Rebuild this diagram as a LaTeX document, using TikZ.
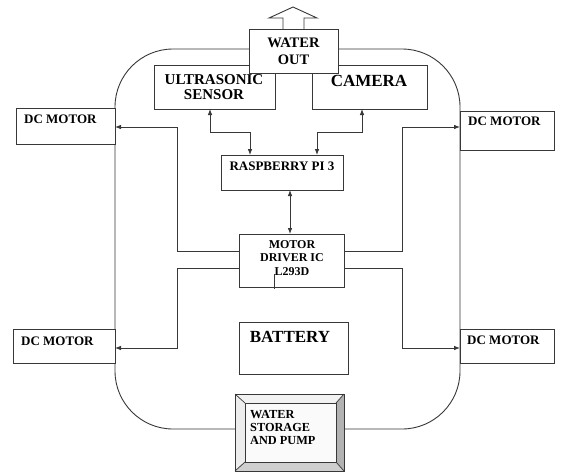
\documentclass[tikz,border=0pt]{standalone}
\usepackage{fontspec}
\setmainfont{Liberation Serif}
\usetikzlibrary{arrows.meta}
\begin{document}
\begin{tikzpicture}[x=1pt,y=-1pt,
  ln/.style={draw=black!78, line width=0.9pt},
  box/.style={ln, fill=white, rectangle, inner sep=0pt, outer sep=0pt, anchor=north west},
  txt/.style={inner sep=0pt, align=center, anchor=north},
  lbl/.style={inner sep=0pt, align=left, anchor=north west},
  arr/.style={ln, -{Latex[length=6pt,width=4.6pt]}},
  darr/.style={ln, {Latex[length=6pt,width=4.6pt]}-{Latex[length=6pt,width=4.6pt]}}]
\useasboundingbox[fill=white] (0,0) rectangle (561,472);
% body outline
\draw[ln, rounded corners=58pt] (115,49) rectangle (460,429);
% sensor boxes
\node[box, minimum width=121pt, minimum height=44pt] (us) at (154,65) {};
\node[box, minimum width=115pt, minimum height=44pt] (cam) at (312,65) {};
% water out
\draw[ln, fill=white] (283,29) -- (283,18) -- (269,18) -- (293,7) -- (317,18) -- (304,18) -- (304,29);
\node[box, minimum width=89pt, minimum height=44pt] (wout) at (249,29) {};
% motors
\node[box, minimum width=99pt, minimum height=36pt] (dcl1) at (16,108) {};
\node[box, minimum width=94pt, minimum height=39pt] (dcr1) at (460,111) {};
\node[box, minimum width=102pt, minimum height=34pt] (dcl2) at (13,329) {};
\node[box, minimum width=94pt, minimum height=34pt] (dcr2) at (460,329) {};
% central boxes
\node[box, minimum width=122pt, minimum height=35pt] (rpi) at (221,155) {};
\node[box, minimum width=105pt, minimum height=53pt] (md) at (239,234) {};
\node[box, minimum width=109pt, minimum height=52pt] (bat) at (239,322) {};
% water storage (bevel)
\node[box, minimum width=109pt, minimum height=77pt] (ws) at (235,394) {};
\node[box, draw=none, minimum width=91pt, minimum height=59pt] (wsi) at (245,403) {};
\fill[gray!10] (ws.north west) -- (ws.north east) -- (wsi.north east) -- (wsi.north west) -- cycle;
\fill[gray!14] (ws.north west) -- (wsi.north west) -- (wsi.south west) -- (ws.south west) -- cycle;
\fill[gray!60] (ws.north east) -- (ws.south east) -- (wsi.south east) -- (wsi.north east) -- cycle;
\fill[gray!38] (ws.south west) -- (ws.south east) -- (wsi.south east) -- (wsi.south west) -- cycle;
\fill[gray!4] (wsi.north west) rectangle (wsi.south east);
\draw[ln] (ws.north west) rectangle (ws.south east);
\draw[ln, line width=0.7pt] (wsi.north west) rectangle (wsi.south east);
\draw[ln, line width=0.7pt] (ws.north west) -- (wsi.north west) (ws.north east) -- (wsi.north east)
  (ws.south west) -- (wsi.south west) (ws.south east) -- (wsi.south east);
% connectors
\draw[darr] (us.south -| 210,0) |- (250,132) -- (rpi.north -| 250,0);
\draw[darr] (cam.south -| 362,0) |- (317,132) -- (rpi.north -| 317,0);
\draw[darr] (rpi.south -| 290,0) -- (md.north -| 290,0);
\draw[arr] ([yshift=9.5pt]md.west) -| (177,127) -- (dcl1.east |- 0,127);
\draw[arr] ([yshift=-7.5pt]md.west) -| (177,348) -- (dcl2.east |- 0,348);
\draw[arr] ([yshift=9.5pt]md.east) -| (402,127) -- (dcr1.west |- 0,127);
\draw[arr] ([yshift=-7.5pt]md.east) -| (402,348) -- (dcr2.west |- 0,348);
% texts
\node[txt, font=\bfseries\fontsize{14.5}{17}\selectfont] (twout) at (293.5,38) {WATER\\OUT};
\node[txt, font=\bfseries\fontsize{15}{15.5}\selectfont] (tus) at (214,74) {ULTRASONIC\\SENSOR};
\node[txt, font=\bfseries\fontsize{17}{18}\selectfont] (tcam) at (369,75) {CAMERA};
\node[txt, font=\bfseries\fontsize{13}{14}\selectfont] (trpi) at (282,162) {RASPBERRY PI 3};
\node[txt, font=\bfseries\fontsize{12}{13.5}\selectfont] (tmd) at (292,240) {MOTOR\\DRIVER IC\\L293D};
\node[txt, font=\bfseries\fontsize{17}{18}\selectfont] (tbat) at (290,331) {BATTERY};
\node[lbl, font=\bfseries\fontsize{12.3}{13}\selectfont] (tws) at (250,410) {WATER\\STORAGE\\AND PUMP};
\node[lbl, font=\bfseries\fontsize{13}{14}\selectfont] (tdl1) at (24,115) {DC MOTOR};
\node[lbl, font=\bfseries\fontsize{13}{14}\selectfont] (tdr1) at (468,117) {DC MOTOR};
\node[lbl, font=\bfseries\fontsize{13}{14}\selectfont] (tdl2) at (21,337) {DC MOTOR};
\node[lbl, font=\bfseries\fontsize{13}{14}\selectfont] (tdr2) at (467,336) {DC MOTOR};
% stray tick under driver text
\draw[ln, line width=0.7pt] (274,274) -- (274,289);
\end{tikzpicture}
\end{document}
